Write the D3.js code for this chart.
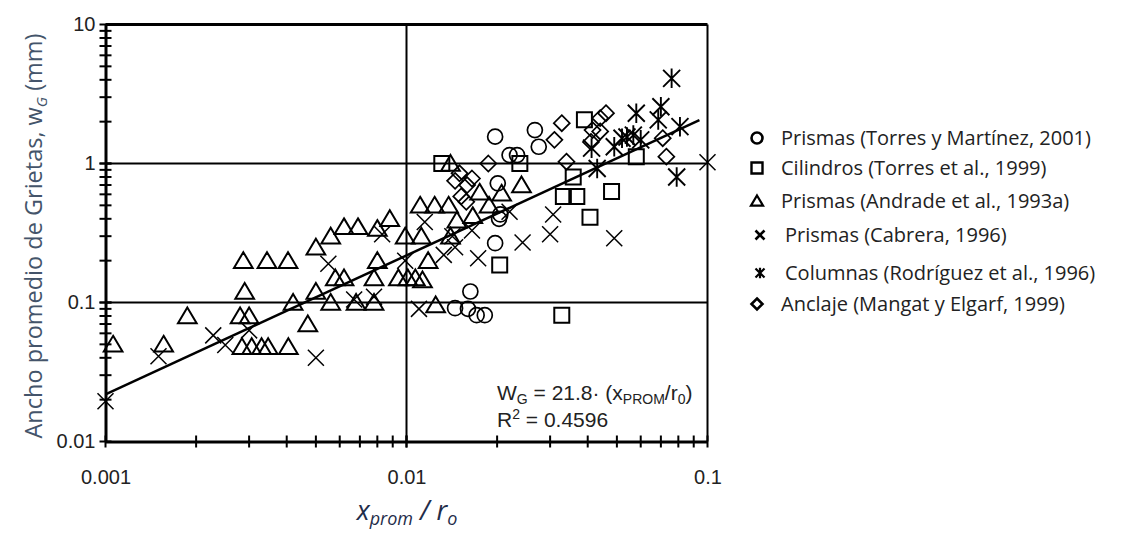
<!DOCTYPE html>
<html>
<head>
<meta charset="utf-8">
<script src="https://cdn.jsdelivr.net/npm/d3@7"></script>
<style>
  body { margin: 0; background: #fff; }
  svg { display: block; }
  .tick-label { font-family: "Liberation Sans", Arial, sans-serif; font-size: 20px; fill: #222; }
  .legend text { font-family: "Open Sans", "Noto Sans", sans-serif; font-size: 20px; fill: #222; }
</style>
</head>
<body>
<div id="chart"></div>
<script>
// data (x = x_prom / r_o, y = w_G in mm)
var prismasTM = [[0.0197, 1.56], [0.0220, 1.15], [0.0233, 1.15], [0.0267, 1.74], [0.0275, 1.32],
  [0.0201, 0.72], [0.0205, 0.43], [0.0203, 0.40], [0.0197, 0.267], [0.0145, 0.091],
  [0.0160, 0.090], [0.0163, 0.12], [0.0171, 0.081], [0.0182, 0.081]]

var cilindros = [[0.0131, 1.0], [0.0238, 1.0], [0.0204, 0.186], [0.039, 2.06], [0.0358, 0.8],
  [0.0332, 0.58], [0.0368, 0.58], [0.0407, 0.41], [0.048, 0.63], [0.058, 1.12], [0.0328, 0.081]]

var andrade = [[0.00106, 0.05], [0.00156, 0.05], [0.00187, 0.08], [0.0028, 0.08], [0.003, 0.08],
  [0.00287, 0.2], [0.00344, 0.2], [0.00404, 0.2], [0.0029, 0.12], [0.00284, 0.048],
  [0.00306, 0.048], [0.0033, 0.048], [0.00347, 0.048], [0.00405, 0.048], [0.0042, 0.1],
  [0.0047, 0.07], [0.005, 0.12], [0.005, 0.25], [0.0056, 0.3], [0.0062, 0.35], [0.0069, 0.35],
  [0.008, 0.34], [0.0088, 0.4], [0.0099, 0.3], [0.0056, 0.1], [0.0068, 0.1], [0.0078, 0.1],
  [0.0058, 0.15], [0.0062, 0.15], [0.0078, 0.15], [0.008, 0.2], [0.0094, 0.15], [0.0101, 0.15],
  [0.0107, 0.15], [0.0113, 0.145], [0.0118, 0.2], [0.0112, 0.3], [0.014, 0.3], [0.0111, 0.5],
  [0.0124, 0.5], [0.0138, 0.5], [0.0147, 0.39], [0.0166, 0.42], [0.0175, 0.62], [0.0188, 0.5],
  [0.0207, 0.61], [0.0241, 0.7], [0.014, 1.0], [0.0125, 0.096]]

var cabrera = [[0.001, 0.0195], [0.0015, 0.041], [0.00228, 0.058], [0.0025, 0.0495], [0.003, 0.063],
  [0.005, 0.04], [0.0055, 0.19], [0.0083, 0.31], [0.0067, 0.105], [0.0078, 0.11], [0.0099, 0.2],
  [0.011, 0.09], [0.0115, 0.38], [0.0142, 0.3], [0.0145, 0.25], [0.0165, 0.33], [0.0133, 0.22],
  [0.0173, 0.208], [0.022, 0.45], [0.0243, 0.27], [0.0307, 0.43], [0.030, 0.31], [0.049, 0.29],
  [0.1, 1.02]]

var columnas = [[0.076, 4.1], [0.058, 2.3], [0.07, 2.56], [0.0686, 2.06], [0.081, 1.84], [0.079, 0.8],
  [0.043, 0.92], [0.052, 1.52], [0.054, 1.55], [0.0567, 1.6], [0.06, 1.48], [0.049, 1.32], [0.0412, 1.29]]

var anclaje = [[0.0187, 1.0], [0.015, 0.85], [0.0165, 0.78], [0.0159, 0.7], [0.0145, 0.75],
  [0.0158, 0.53], [0.0152, 0.58], [0.031, 1.48], [0.0328, 1.95], [0.046, 2.3], [0.044, 2.12],
  [0.0415, 1.74], [0.041, 1.43], [0.044, 1.7], [0.034, 1.03], [0.071, 1.52], [0.073, 1.12]]

// regression line end points, W = 21.8 x
var fitLine = [[0.001, 0.0218], [0.094, 2.05]]

var xTicks = [0.001, 0.01, 0.1]
var xTickLabels = ['0.001', '0.01', '0.1']
var yTicks = [0.01, 0.1, 1, 10]
var yTickLabels = ['0.01', '0.1', '1', '10']

var legendNames = ['Prismas (Torres y Martínez, 2001)', 'Cilindros (Torres et al., 1999)',
  'Prismas (Andrade et al., 1993a)', 'Prismas (Cabrera, 1996)',
  'Columnas (Rodríguez et al., 1996)', 'Anclaje (Mangat y Elgarf, 1999)']
var legendShapes = ['circle', 'square', 'triangle', 'x', 'star', 'diamond']

var width = 1122
var height = 534

var svg = d3.select('#chart').append('svg')
  .attr('width', width)
  .attr('height', height)

var xScale = d3.scaleLog().domain([0.001, 0.1]).range([105.5, 707.5])
var yScale = d3.scaleLog().domain([0.01, 10]).range([441.5, 24.5])

// marker shapes, s = half size
function shape(type, s) {
  if (type === 'circle') {
    return `M${s},0A${s},${s} 0 1,1 ${-s},0A${s},${s} 0 1,1 ${s},0Z`
  } else if (type === 'square') {
    return `M${-s},${-s}H${s}V${s}H${-s}Z`
  } else if (type === 'triangle') {
    return `M0,${-s}L${s * 1.1},${s * 0.85}H${-s * 1.1}Z`
  } else if (type === 'diamond') {
    return `M0,${-s}L${s},0L0,${s}L${-s},0Z`
  } else if (type === 'x') {
    return `M${-s},${-s}L${s},${s}M${s},${-s}L${-s},${s}`
  } else {
    return `M${-s},${-s}L${s},${s}M${s},${-s}L${-s},${s}M0,${-s * 1.15}V${s * 1.15}`
  }
}

// grid lines
var grid = svg.append('g').attr('class', 'grid')
  .attr('stroke', '#000').attr('stroke-width', 2)
grid.append('line')
  .attr('x1', xScale(0.01)).attr('x2', xScale(0.01))
  .attr('y1', yScale(10)).attr('y2', yScale(0.01))
;[0.1, 1].forEach(function(v) {
  grid.append('line')
    .attr('x1', xScale(0.001)).attr('x2', xScale(0.1))
    .attr('y1', yScale(v)).attr('y2', yScale(v))
})

// frame
svg.append('line').attr('x1', xScale(0.001)).attr('x2', xScale(0.1))
  .attr('y1', yScale(10)).attr('y2', yScale(10)).attr('stroke', '#000').attr('stroke-width', 3)
svg.append('line').attr('x1', xScale(0.1)).attr('x2', xScale(0.1))
  .attr('y1', yScale(10)).attr('y2', yScale(0.01)).attr('stroke', '#000').attr('stroke-width', 2)

// minor + major ticks crossing the axes
var yMinor = []
var xMinor = []
;[0.01, 0.1, 1].forEach(function(d) { for (var i = 1; i <= 10; i++) yMinor.push(d * i) })
;[0.001, 0.01].forEach(function(d) { for (var i = 1; i <= 10; i++) xMinor.push(d * i) })

svg.append('g').selectAll('line').data(yMinor).enter().append('line')
  .attr('x1', xScale(0.001) - 6).attr('x2', xScale(0.001) + 6)
  .attr('y1', d => yScale(d)).attr('y2', d => yScale(d))
  .attr('stroke', '#000').attr('stroke-width', 2)

svg.append('g').selectAll('line').data(xMinor).enter().append('line')
  .attr('y1', yScale(0.01) - 6).attr('y2', yScale(0.01) + 6)
  .attr('x1', d => xScale(d)).attr('x2', d => xScale(d))
  .attr('stroke', '#000').attr('stroke-width', 2)

// axes with labels
var yAxis = d3.axisLeft(yScale).tickValues(yTicks).tickSize(0).tickPadding(10)
  .tickFormat((d, i) => yTickLabels[i])
var gy = svg.append('g').attr('transform', `translate(${xScale(0.001)},0)`).call(yAxis)
gy.select('.domain').attr('stroke', '#000').attr('stroke-width', 3)
gy.selectAll('text').attr('class', 'tick-label').attr('font-size', null).attr('font-family', null)

var xAxis = d3.axisBottom(xScale).tickValues(xTicks).tickSize(0).tickPadding(28)
  .tickFormat((d, i) => xTickLabels[i])
var gx = svg.append('g').attr('transform', `translate(0,${yScale(0.01)})`).call(xAxis)
gx.select('.domain').attr('stroke', '#000').attr('stroke-width', 3)
gx.selectAll('text').attr('class', 'tick-label').attr('font-size', null).attr('font-family', null)

// regression line
var lineDraw = d3.line().x(d => xScale(d[0])).y(d => yScale(d[1]))
svg.append('path').datum(fitLine)
  .attr('d', lineDraw)
  .attr('fill', 'none').attr('stroke', '#000').attr('stroke-width', 2.5)

// series
var series = [
  { data: prismasTM, type: 'circle', s: 7.5, w: 1.7 },
  { data: cilindros, type: 'square', s: 7.5, w: 2 },
  { data: andrade, type: 'triangle', s: 8.5, w: 2 },
  { data: cabrera, type: 'x', s: 8, w: 1.5 },
  { data: columnas, type: 'star', s: 8.5, w: 1.9 },
  { data: anclaje, type: 'diamond', s: 8, w: 1.7 }
]

series.forEach(function(ser) {
  svg.append('g').selectAll('path').data(ser.data).enter().append('path')
    .attr('d', shape(ser.type, ser.s))
    .attr('transform', d => `translate(${xScale(d[0])},${yScale(d[1])})`)
    .attr('fill', 'none')
    .attr('stroke', '#000')
    .attr('stroke-width', ser.w)
})

// equation
var eq = svg.append('text')
  .attr('x', 497).attr('y', 400)
  .style('font-family', '"Liberation Sans", Arial, sans-serif')
  .style('font-size', '21px').style('fill', '#222')
eq.append('tspan').text('W')
eq.append('tspan').text('G').attr('dy', 4).style('font-size', '14px')
eq.append('tspan').text(' = 21.8· (x').attr('dy', -4)
eq.append('tspan').text('PROM').attr('dy', 4).style('font-size', '14px')
eq.append('tspan').text('/r').attr('dy', -4)
eq.append('tspan').text('0').attr('dy', 4).style('font-size', '14px')
eq.append('tspan').text(')').attr('dy', -4)

var r2 = svg.append('text')
  .attr('x', 497).attr('y', 427)
  .style('font-family', '"Liberation Sans", Arial, sans-serif')
  .style('font-size', '21px').style('fill', '#222')
r2.append('tspan').text('R')
r2.append('tspan').text('2').attr('dy', -8).style('font-size', '14px')
r2.append('tspan').text(' = 0.4596').attr('dy', 8)

// axis titles
var yTitle = svg.append('text')
  .attr('transform', 'translate(42,236) rotate(-90)')
  .attr('text-anchor', 'middle')
  .style('font-family', '"Open Sans", "Noto Sans", sans-serif')
  .style('font-size', '23.5px').style('fill', '#44546a')
yTitle.append('tspan').text('Ancho promedio de Grietas, w')
yTitle.append('tspan').text('G').attr('dy', 5).style('font-size', '15px').style('font-style', 'italic')
yTitle.append('tspan').text(' (mm)').attr('dy', -5)

var xTitle = svg.append('text')
  .attr('x', 407).attr('y', 520)
  .attr('text-anchor', 'middle')
  .style('font-family', '"Open Sans", "Noto Sans", sans-serif')
  .style('font-style', 'italic')
  .style('font-size', '27px').style('fill', '#1f2d4a')
xTitle.append('tspan').text('x')
xTitle.append('tspan').text('prom').attr('dy', 5).style('font-size', '18px')
xTitle.append('tspan').text(' / r').attr('dy', -5)
xTitle.append('tspan').text('o').attr('dy', 5).style('font-size', '18px')

// legend
var legendY = [138, 168, 201, 235, 273, 304]
var legendMark = [
  { s: 5.5, w: 2.6 }, { s: 5.5, w: 2.4 }, { s: 5.5, w: 2.2 },
  { s: 4.5, w: 2.6 }, { s: 4.5, w: 2.2 }, { s: 5.5, w: 2.6 }
]
var legend = svg.append('g').attr('class', 'legend')
legendNames.forEach(function(name, i) {
  var mx = (i === 3 || i === 4) ? 760 : 757
  legend.append('path')
    .attr('d', shape(legendShapes[i], legendMark[i].s))
    .attr('transform', `translate(${mx},${legendY[i]})`)
    .attr('fill', 'none').attr('stroke', '#000').attr('stroke-width', legendMark[i].w)
  legend.append('text')
    .attr('x', (i === 3 || i === 4) ? 785 : 781)
    .attr('y', legendY[i] + 7)
    .text(name)
})
</script>
</body>
</html>
